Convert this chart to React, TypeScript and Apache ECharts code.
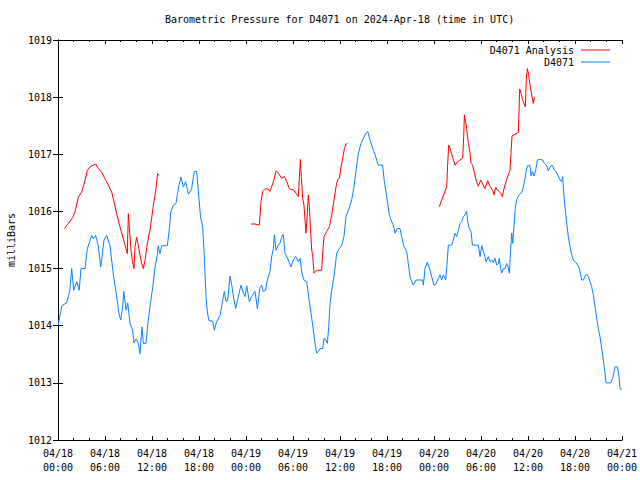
import React, { useEffect, useRef } from "react";
import * as echarts from "echarts";

const TITLE = "Barometric Pressure for D4071 on 2024-Apr-18 (time in UTC)";
const Y_NAME = "milliBars";
const SERIES_ANALYSIS = "D4071 Analysis";
const SERIES_OBS = "D4071";

const xTickLabels = [
  "04/18\n00:00", "04/18\n06:00", "04/18\n12:00", "04/18\n18:00",
  "04/19\n00:00", "04/19\n06:00", "04/19\n12:00", "04/19\n18:00",
  "04/20\n00:00", "04/20\n06:00", "04/20\n12:00", "04/20\n18:00",
  "04/21\n00:00",
];

// hours since 2024-04-18 00:00 UTC
const obsHours = [
  0, 0.5, 1.1, 1.5, 1.75, 2.0, 2.4, 2.7, 2.94, 3.45, 3.75, 4.3, 4.5, 4.8, 5.15, 5.45, 5.6, 5.87,
  6.2, 6.64, 7.06, 7.5, 7.8, 8.0, 8.25, 8.4, 8.7, 8.9, 9.2, 9.53, 9.7, 9.96, 10.26, 10.47, 10.72,
  10.9, 11.23, 11.5, 11.8, 12.1, 12.4, 12.7, 12.8, 13.0, 13.25, 13.96, 14.2, 14.4, 14.7, 15.06,
  15.4, 15.7, 16.0, 16.3, 16.64, 17.06, 17.4, 17.7, 17.9, 18.2, 18.47, 18.64, 18.77, 18.9, 19.06,
  19.27, 19.74, 19.96, 20.25, 20.68, 21.02, 21.23, 21.45, 21.66, 21.96, 22.17, 22.47, 22.68,
  23.02, 23.36, 23.66, 23.87, 24.09, 24.43, 24.72, 25.15, 25.45, 25.79, 26.0, 26.2, 26.5, 26.73,
  27.06, 27.28, 27.5, 27.62, 27.84, 28.1, 28.34, 28.64, 28.77, 28.98, 29.4, 29.74, 30.04, 30.34,
  30.68, 30.9, 31.1, 31.4, 31.75, 32.09, 32.3, 32.6, 32.81, 33.02, 33.23, 33.45, 33.79, 33.96,
  34.22, 34.39, 34.56, 34.73, 34.94, 35.24, 35.58, 35.92, 36.22, 36.51, 36.77, 37.07, 37.49,
  37.79, 38.05, 38.35, 38.68, 38.98, 39.32, 39.54, 39.83, 40.26, 40.47, 40.68, 40.9, 41.45,
  41.66, 41.96, 42.3, 42.6, 42.81, 43.02, 43.32, 43.66, 43.87, 44.17, 44.51, 44.72, 44.94,
  45.15, 45.36, 45.7, 46.21, 46.55, 46.64, 46.85, 47.15, 47.49, 47.7, 48.0, 48.26, 48.55, 48.77,
  48.98, 49.19, 49.49, 49.62, 49.83, 50.26, 50.47, 50.69, 50.9, 51.11, 51.32, 51.54, 51.75,
  51.96, 52.17, 52.3, 52.51, 52.73, 52.9, 53.66, 53.88, 54.09, 54.3, 54.51, 54.64, 54.94, 55.15,
  55.36, 55.58, 55.79, 56.0, 56.21, 56.34, 56.51, 56.64, 56.85, 57.07, 57.28, 57.45, 57.62,
  57.79, 57.92, 58.05, 58.22, 58.39, 58.56, 58.86, 59.2, 59.41, 59.62, 59.83, 59.96, 60.26,
  60.39, 60.56, 60.77, 60.98, 61.2, 61.45, 61.88, 62.09, 62.39, 62.6, 62.9, 63.15, 63.36, 63.58,
  63.79, 64.09, 64.3, 64.43, 64.51, 64.64, 64.81, 64.94, 65.15, 65.37, 65.58, 65.79, 66.13,
  66.35, 66.56, 66.86, 67.07, 67.28, 67.49, 67.71, 67.92, 68.13, 68.34, 68.56, 68.77, 68.98,
  69.19, 69.41, 69.62, 69.83, 69.96, 70.55, 70.81, 71.11, 71.41, 71.62, 71.75, 72.0,
];

const obsValues = [
  1014.0, 1014.35, 1014.4, 1014.6, 1015.0, 1014.62, 1014.77, 1014.62, 1015.0, 1015.0, 1015.35,
  1015.58, 1015.52, 1015.58, 1015.4, 1015.03, 1015.17, 1015.5, 1015.58, 1015.4, 1014.9, 1014.5,
  1014.2, 1014.1, 1014.33, 1014.6, 1014.27, 1014.4, 1014.04, 1013.92, 1013.7, 1013.77, 1013.69,
  1013.51, 1013.98, 1013.69, 1013.69, 1014.07, 1014.39, 1014.68, 1015.03, 1015.26, 1015.4,
  1015.26, 1015.4, 1015.4, 1015.67, 1015.99, 1016.1, 1016.14, 1016.43, 1016.6, 1016.43, 1016.52,
  1016.3, 1016.4, 1016.7, 1016.7, 1016.37, 1015.9, 1015.73, 1015.32, 1014.9, 1014.5, 1014.24,
  1014.09, 1014.08, 1013.92, 1014.07, 1014.18, 1014.44, 1014.6, 1014.42, 1014.44, 1014.87,
  1014.72, 1014.45, 1014.3, 1014.51, 1014.71, 1014.57, 1014.51, 1014.7, 1014.42, 1014.51,
  1014.6, 1014.3, 1014.68, 1014.71, 1014.6, 1014.62, 1014.8, 1014.95, 1015.21, 1015.35, 1015.59,
  1015.32, 1015.41, 1015.44, 1015.59, 1015.59, 1015.27, 1015.15, 1015.03, 1015.15, 1015.21,
  1015.12, 1015.18, 1014.95, 1014.8, 1014.77, 1014.42, 1014.22, 1013.92, 1013.69, 1013.52,
  1013.55, 1013.6, 1013.6, 1013.78, 1013.75, 1013.69, 1013.98, 1014.39, 1014.62, 1014.86,
  1015.27, 1015.35, 1015.41, 1015.56, 1015.91, 1016.02, 1016.2, 1016.43, 1016.72, 1017.02,
  1017.19, 1017.28, 1017.37, 1017.4, 1017.25, 1017.07, 1016.99, 1016.9, 1016.81, 1016.81,
  1016.52, 1016.26, 1015.94, 1015.82, 1015.76, 1015.62, 1015.7, 1015.7, 1015.56, 1015.38,
  1015.3, 1015.09, 1014.86, 1014.77, 1014.71, 1014.8, 1014.8, 1014.8, 1014.71, 1015.0, 1015.11,
  1014.97, 1014.86, 1014.71, 1014.73, 1014.83, 1014.89, 1014.8, 1014.89, 1014.8, 1015.0,
  1015.41, 1015.41, 1015.5, 1015.62, 1015.56, 1015.67, 1015.79, 1015.82, 1015.91, 1015.94,
  1016.0, 1015.82, 1015.7, 1015.65, 1015.41, 1015.41, 1015.21, 1015.4, 1015.3, 1015.21, 1015.12,
  1015.21, 1015.12, 1015.15, 1015.1, 1015.18, 1015.06, 1015.09, 1015.18, 1015.0, 1014.92,
  1015.0, 1015.0, 1015.09, 1015.03, 1014.92, 1015.35, 1015.62, 1015.44, 1015.76, 1016.08,
  1016.21, 1016.29, 1016.33, 1016.43, 1016.58, 1016.75, 1016.8, 1016.8, 1016.62, 1016.7,
  1016.62, 1016.72, 1016.9, 1016.91, 1016.9, 1016.84, 1016.8, 1016.71, 1016.8, 1016.8, 1016.72,
  1016.7, 1016.64, 1016.55, 1016.52, 1016.61, 1016.43, 1016.2, 1015.97, 1015.79, 1015.56,
  1015.38, 1015.24, 1015.15, 1015.1, 1015.06, 1015.0, 1014.8, 1014.8, 1014.86, 1014.9, 1014.86,
  1014.77, 1014.68, 1014.54, 1014.33, 1014.13, 1013.95, 1013.81, 1013.6, 1013.4, 1013.17,
  1013.0, 1013.0, 1013.08, 1013.28, 1013.28, 1013.11, 1012.9, 1012.88,
];

// analysis: three runs separated by gaps (null)
const analysisHours = [
  0.81, 1.32, 1.87, 2.17, 2.6, 3.02, 3.45, 3.74, 4.08, 4.51, 4.81, 5.15, 5.57, 6.0, 6.43, 6.85,
  7.15, 7.49, 7.91, 8.34, 8.68, 8.85, 8.98, 9.1, 9.32, 9.49, 9.7, 9.83, 10.04, 10.26, 10.47,
  10.68, 10.9, 11.1, 11.4, 11.74, 12.17, 12.51, 12.72, 12.93,
  18.0,
  24.64, 25.15, 25.7, 25.92, 26.12, 26.55, 26.85, 27.06, 27.5, 27.84, 28.13, 28.56, 28.9, 29.2,
  29.53, 29.83, 30.04, 30.38, 30.68, 30.81, 30.94, 31.06, 31.23, 31.4, 31.57, 31.66, 31.83,
  31.96, 32.09, 32.26, 32.39, 32.51, 32.68, 32.85, 33.1, 33.66, 33.79, 33.96, 34.3, 34.64,
  34.94, 35.24, 35.49, 35.71, 35.92, 36.13, 36.35, 36.56, 36.77, 36.94,
  42.0,
  48.68, 48.98, 49.32, 49.62, 49.75, 49.88, 50.05, 50.35, 50.69, 51.03, 51.32, 51.66, 51.79,
  51.88, 52.0, 52.17, 52.39, 52.6, 52.73, 52.94, 53.16, 53.37, 53.66, 53.96, 54.22, 54.51,
  54.85, 55.15, 55.49, 55.66, 55.87, 56.21, 56.51, 56.72, 56.94, 57.19, 57.49, 57.7, 57.83,
  57.96, 58.34, 58.77, 58.86, 58.94, 59.11, 59.32, 59.49, 59.66, 59.79, 59.92, 60.09, 60.26,
  60.47, 60.68, 60.81,
];

const analysisValues = [
  1015.7, 1015.79, 1015.89, 1015.99, 1016.25, 1016.34, 1016.54, 1016.72, 1016.78, 1016.81,
  1016.83, 1016.75, 1016.69, 1016.57, 1016.46, 1016.34, 1016.17, 1015.96, 1015.73, 1015.52,
  1015.35, 1015.26, 1015.96, 1015.73, 1015.32, 1015.14, 1015.0, 1015.38, 1015.55, 1015.4,
  1015.23, 1015.09, 1015.0, 1015.14, 1015.44, 1015.67, 1016.1, 1016.4, 1016.66, 1016.63,
  null,
  1015.78, 1015.78, 1015.76, 1016.17, 1016.35, 1016.4, 1016.39, 1016.35, 1016.52, 1016.71,
  1016.67, 1016.58, 1016.61, 1016.52, 1016.4, 1016.38, 1016.38, 1016.32, 1016.26, 1016.58,
  1016.91, 1016.61, 1016.23, 1016.11, 1015.79, 1015.62, 1015.97, 1016.29, 1016.08, 1015.62,
  1015.32, 1015.24, 1014.92, 1014.95, 1014.97, 1014.97, 1015.27, 1015.56, 1015.65, 1015.73,
  1015.94, 1016.2, 1016.43, 1016.56, 1016.58, 1016.78, 1016.93, 1017.1, 1017.18, 1017.19,
  null,
  1016.08, 1016.2, 1016.32, 1016.43, 1016.84, 1017.16, 1017.1, 1016.96, 1016.81, 1016.87,
  1016.9, 1016.93, 1017.31, 1017.69, 1017.6, 1017.45, 1017.19, 1017.02, 1016.84, 1016.81,
  1016.67, 1016.55, 1016.44, 1016.55, 1016.48, 1016.4, 1016.54, 1016.44, 1016.37, 1016.29,
  1016.42, 1016.36, 1016.32, 1016.26, 1016.4, 1016.52, 1016.64, 1016.72, 1017.02, 1017.32,
  1017.35, 1017.38, 1017.77, 1018.14, 1018.07, 1017.95, 1017.89, 1017.83, 1018.33, 1018.5,
  1018.39, 1018.21, 1018.04, 1017.89, 1018.0,
];

const FONT = "'DejaVu Sans Mono', 'Liberation Mono', monospace";
const RED = "#ff0000";
const BLUE = "#0a80ff";

export default function App() {
  const ref = useRef<HTMLDivElement>(null);

  useEffect(() => {
    if (!ref.current) return;
    const chart = echarts.init(ref.current, null, { renderer: "svg" });

    const obsData = obsHours.map((h, i) => [h, obsValues[i]]);
    const anaData = analysisHours.map((h, i) => [h, analysisValues[i] === null ? "-" : analysisValues[i]]);

    const axisLine = { show: true, lineStyle: { color: "#000", width: 1 } };
    const xCommon = {
      type: "value" as const,
      min: 0,
      max: 72,
      interval: 6,
      splitLine: { show: false },
      axisLine,
      axisTick: { show: true, inside: true, length: 4, lineStyle: { color: "#000" } },
      minorTick: { show: true, splitNumber: 3, length: 2, lineStyle: { color: "#000" } },
    };
    const yCommon = {
      type: "value" as const,
      min: 1012,
      max: 1019,
      interval: 1,
      splitLine: { show: false },
      axisLine,
      axisTick: { show: true, inside: true, length: 5, lineStyle: { color: "#000" } },
    };

    chart.setOption({
      animation: false,
      backgroundColor: "#fff",
      title: {
        text: TITLE,
        left: 165,
        top: 14,
        padding: 0,
        textStyle: { fontFamily: FONT, fontSize: 10, fontWeight: "normal", color: "#000" },
      },
      legend: {
        orient: "vertical",
        right: 30,
        top: 45,
        padding: 0,
        align: "right",
        icon: "rect",
        itemWidth: 29,
        itemHeight: 1,
        itemGap: 2,
        textStyle: { fontFamily: FONT, fontSize: 10, color: "#000", padding: [0, 2, 0, 0] },
        data: [
          { name: SERIES_ANALYSIS, itemStyle: { color: RED } },
          { name: SERIES_OBS, itemStyle: { color: BLUE } },
        ],
      },
      grid: { left: 58, right: 18, top: 40, bottom: 40, containLabel: false, outerBoundsMode: "none" },
      xAxis: [
        {
          ...xCommon,
          position: "bottom",
          axisLabel: {
            show: true,
            margin: 6,
            fontFamily: FONT,
            fontSize: 10,
            color: "#000",
            lineHeight: 14,
            showMinLabel: true,
            showMaxLabel: true,
            formatter: (v: number) => xTickLabels[Math.round(v / 6)] ?? "",
          },
        },
        {
          ...xCommon,
          position: "top",
          axisLabel: { show: false },
        },
      ],
      yAxis: [
        {
          ...yCommon,
          position: "left",
          name: Y_NAME,
          nameLocation: "middle",
          nameGap: 42,
          nameRotate: 90,
          nameTextStyle: { fontFamily: FONT, fontSize: 10, color: "#000" },
          axisLabel: {
            show: true,
            margin: 6,
            fontFamily: FONT,
            fontSize: 10,
            color: "#000",
            formatter: (v: number) => String(v),
          },
        },
        {
          ...yCommon,
          position: "right",
          axisLabel: { show: false },
        },
      ],
      series: [
        {
          name: SERIES_ANALYSIS,
          type: "line",
          xAxisIndex: 0,
          yAxisIndex: 0,
          data: anaData,
          symbol: "none",
          connectNulls: false,
          lineStyle: { color: RED, width: 1 },
          itemStyle: { color: RED },
        },
        {
          name: SERIES_OBS,
          type: "line",
          xAxisIndex: 0,
          yAxisIndex: 0,
          data: obsData,
          symbol: "none",
          lineStyle: { color: BLUE, width: 1 },
          itemStyle: { color: BLUE },
        },
      ],
    });

    return () => chart.dispose();
  }, []);

  return (
    <div
      ref={ref}
      style={{ position: "absolute", left: 0, top: 0, width: 640, height: 480, background: "#fff" }}
    />
  );
}
